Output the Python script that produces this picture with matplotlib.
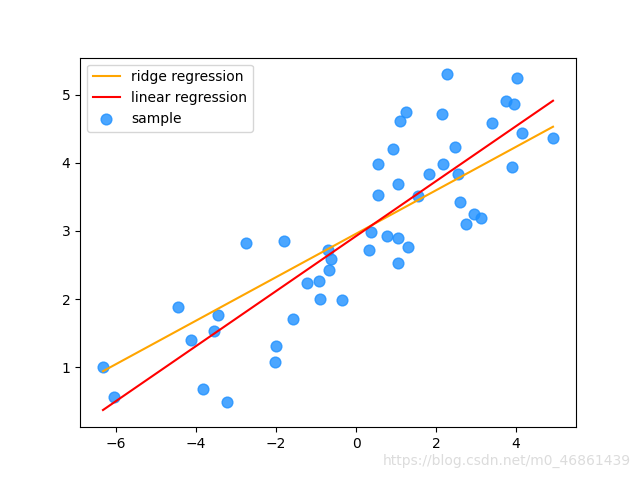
import numpy as np
import matplotlib
matplotlib.use("Agg")
import matplotlib.pyplot as plt

x = [-6.325, -6.05, -4.45, -4.125, -3.825, -3.55, -3.45, -3.225, -2.75, -2.0,
     -2.025, -1.8, -1.575, -1.225, -0.925, -0.9, -0.7, -0.625, -0.675, -0.35,
     0.375, 0.325, 0.55, 0.55, 0.775, 0.925, 1.05, 1.05, 1.05, 1.1,
     1.25, 1.3, 1.55, 1.825, 2.15, 2.175, 2.275, 2.475, 2.55, 2.6,
     2.75, 2.95, 3.125, 3.4, 3.75, 3.9, 3.95, 4.025, 4.15, 4.925]
y = [1.0, 0.56, 1.88, 1.40, 0.68, 1.53, 1.76, 0.485, 2.82, 1.31,
     1.07, 2.85, 1.71, 2.235, 2.26, 2.0, 2.72, 2.59, 2.43, 1.99,
     2.985, 2.72, 3.985, 3.53, 2.93, 4.2, 3.69, 2.90, 2.53, 4.62,
     4.75, 2.765, 3.51, 3.84, 4.72, 3.985, 5.31, 4.235, 3.84, 3.43,
     3.10, 3.25, 3.19, 4.59, 4.90, 3.94, 4.87, 5.25, 4.44, 4.37]

ridge_coef = (0.319, 2.958)
linear_coef = (0.4036, 2.923)

x = np.array(x)
y = np.array(y)
xs = np.sort(x)

fig, ax = plt.subplots(figsize=(6.4, 4.8), dpi=100)
ax.plot(xs, ridge_coef[0] * xs + ridge_coef[1], color='orange', label='ridge regression')
ax.plot(xs, linear_coef[0] * xs + linear_coef[1], color='red', label='linear regression')
ax.scatter(x, y, s=60, color='dodgerblue', alpha=0.8, label='sample')
ax.set_xlim(-6.9, 5.5)
ax.set_ylim(0.118, 5.544)
ax.legend(loc='upper left')
fig.text(0.985, 0.025, 'https://blog.csdn.net/m0_46861439', ha='right', va='bottom',
         fontsize=10, color='#dcdcdc')
fig.savefig('out.png')
